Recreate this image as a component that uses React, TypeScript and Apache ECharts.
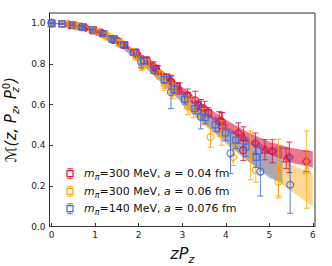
import React, { useEffect, useRef } from "react";
import * as echarts from "echarts";

const RED = "#DC143C";
const ORANGE = "#FFA500";
const BLUE = "#4169E1";

const X_TICKS = [0, 1, 2, 3, 4, 5, 6];
const Y_TICKS = [0, 0.2, 0.4, 0.6, 0.8, 1.0];

const LEGEND_LABELS = [
  "{i|m}{s|π}{n|=300 MeV, }{i|a}{n| = 0.04 fm}",
  "{i|m}{s|π}{n|=300 MeV, }{i|a}{n| = 0.06 fm}",
  "{i|m}{s|π}{n|=140 MeV, }{i|a}{n| = 0.076 fm}",
];

// bands: x, lower, upper
const BAND_X = [0, 0.5, 1, 1.5, 2, 2.5, 3, 3.5, 4, 4.5, 5, 5.5, 6];
const RED_LO = [0.998, 0.986, 0.959, 0.906, 0.833, 0.745, 0.65, 0.557, 0.475, 0.409, 0.353, 0.314, 0.29];
const RED_HI = [1.002, 0.994, 0.971, 0.924, 0.857, 0.775, 0.686, 0.599, 0.525, 0.465, 0.417, 0.386, 0.37];
const ORANGE_LO = [0.998, 0.985, 0.954, 0.896, 0.81, 0.71, 0.603, 0.498, 0.404, 0.319, 0.248, 0.175, 0.1];
const ORANGE_HI = [1.002, 0.995, 0.97, 0.92, 0.842, 0.75, 0.653, 0.558, 0.476, 0.405, 0.348, 0.305, 0.26];
const BLUE_BAND_X = [0, 0.5, 1, 1.5, 2, 2.5, 3, 3.5, 4, 4.5, 5, 5.3];
const BLUE_LO = [0.998, 0.985, 0.954, 0.896, 0.812, 0.713, 0.608, 0.508, 0.415, 0.325, 0.24, 0.215];
const BLUE_HI = [1.002, 0.995, 0.972, 0.924, 0.848, 0.757, 0.662, 0.572, 0.495, 0.435, 0.39, 0.395];

// points: [x, y, err]
const RED_SQUARES = [
  [0.0, 1.0, 0.002], [0.24, 0.997, 0.003], [0.48, 0.99, 0.004], [0.72, 0.981, 0.005],
  [0.96, 0.967, 0.006], [1.2, 0.948, 0.007], [1.44, 0.922, 0.008], [1.68, 0.893, 0.009],
  [1.92, 0.858, 0.01], [2.16, 0.82, 0.011], [2.4, 0.778, 0.012], [2.64, 0.735, 0.014],
  [2.88, 0.69, 0.016], [3.12, 0.643, 0.018], [3.36, 0.597, 0.02], [3.6, 0.56, 0.024],
];
const RED_CIRCLES = [
  [0.0, 1.0, 0.003], [0.55, 0.988, 0.006], [1.1, 0.955, 0.009], [1.65, 0.893, 0.014],
  [2.2, 0.812, 0.02], [2.75, 0.71, 0.03], [3.3, 0.62, 0.045], [3.85, 0.515, 0.05], [4.4, 0.375, 0.05],
];
const RED_TRIANGLES = [
  [0.0, 1.0, 0.003], [0.49, 0.99, 0.005], [0.98, 0.965, 0.008], [1.47, 0.918, 0.012],
  [1.96, 0.85, 0.016], [2.45, 0.768, 0.022], [2.94, 0.678, 0.028], [3.43, 0.59, 0.035],
  [3.92, 0.52, 0.04], [4.41, 0.44, 0.05], [4.9, 0.378, 0.05], [5.39, 0.335, 0.05],
];
const RED_DIAMONDS = [
  [0.0, 1.0, 0.003], [0.39, 0.993, 0.005], [0.78, 0.978, 0.007], [1.17, 0.951, 0.01],
  [1.56, 0.908, 0.013], [1.95, 0.852, 0.017], [2.34, 0.789, 0.021], [2.73, 0.718, 0.026],
  [3.12, 0.645, 0.031], [3.51, 0.58, 0.036], [3.9, 0.52, 0.04], [4.29, 0.46, 0.05],
  [4.68, 0.41, 0.05], [5.07, 0.37, 0.057], [5.46, 0.34, 0.075], [5.85, 0.32, 0.05],
];

const ORANGE_SQUARES = [
  [0.0, 1.0, 0.003], [0.31, 0.996, 0.004], [0.62, 0.985, 0.006], [0.93, 0.966, 0.008],
  [1.24, 0.94, 0.01], [1.55, 0.905, 0.012], [1.86, 0.86, 0.015], [2.17, 0.805, 0.018],
  [2.48, 0.745, 0.022], [2.79, 0.68, 0.026], [3.1, 0.612, 0.03],
];
const ORANGE_CIRCLES = [
  [0.0, 1.0, 0.003], [0.52, 0.989, 0.006], [1.04, 0.957, 0.01], [1.56, 0.9, 0.015],
  [2.08, 0.79, 0.022], [2.6, 0.7, 0.03], [3.13, 0.59, 0.04], [3.65, 0.44, 0.05],
  [4.17, 0.4, 0.05], [4.69, 0.278, 0.06], [5.21, 0.22, 0.08],
];
const ORANGE_TRIANGLES = [
  [0.0, 1.0, 0.003], [0.65, 0.984, 0.008], [1.3, 0.935, 0.014], [1.95, 0.84, 0.022],
  [2.6, 0.71, 0.032], [3.26, 0.58, 0.045], [3.91, 0.46, 0.06], [4.57, 0.35, 0.12],
  [5.21, 0.29, 0.14], [5.86, 0.28, 0.19],
];
const ORANGE_DIAMONDS = [
  [0.0, 1.0, 0.003], [0.695, 0.982, 0.008], [1.39, 0.925, 0.014], [2.085, 0.8, 0.022],
  [2.78, 0.66, 0.032], [3.475, 0.54, 0.04], [4.17, 0.34, 0.04],
];

const BLUE_SQUARES = [
  [0.0, 1.0, 0.002], [0.235, 0.997, 0.003], [0.47, 0.991, 0.004], [0.705, 0.981, 0.005],
  [0.94, 0.967, 0.006], [1.175, 0.948, 0.007], [1.41, 0.924, 0.008], [1.645, 0.893, 0.01],
  [1.88, 0.857, 0.012], [2.115, 0.815, 0.014], [2.35, 0.768, 0.016], [2.585, 0.722, 0.018],
  [2.82, 0.675, 0.02], [3.055, 0.625, 0.023], [3.29, 0.58, 0.026], [3.525, 0.535, 0.03],
  [3.76, 0.5, 0.034], [3.995, 0.46, 0.038], [4.23, 0.425, 0.042], [4.465, 0.39, 0.046],
  [4.7, 0.34, 0.05],
];
const BLUE_CIRCLES = [
  [0.0, 1.0, 0.003], [0.685, 0.981, 0.008], [1.37, 0.922, 0.016], [2.055, 0.81, 0.03],
  [2.74, 0.66, 0.08], [3.425, 0.54, 0.06], [4.11, 0.36, 0.1], [4.795, 0.27, 0.12],
  [5.48, 0.205, 0.14],
];

type Pt = number[];

function bandSeries(xs: number[], lo: number[], hi: number[], fill: string, z: number) {
  return {
    type: "custom",
    silent: true,
    z,
    clip: true,
    data: xs.map((x, i) => [x, lo[i], hi[i]]),
    encode: { x: 0, y: 1 },
    renderItem: (params: any, api: any) => {
      if (params.dataIndex !== 0) return null;
      const pts: number[][] = [];
      for (let i = 0; i < xs.length; i++) pts.push(api.coord([xs[i], hi[i]]));
      for (let i = xs.length - 1; i >= 0; i--) pts.push(api.coord([xs[i], lo[i]]));
      return { type: "polygon", shape: { points: pts }, style: { fill } };
    },
  };
}

function errSeries(data: Pt[], color: string, z: number) {
  return {
    type: "custom",
    silent: true,
    z,
    clip: false,
    data,
    encode: { x: 0, y: 1 },
    renderItem: (_params: any, api: any) => {
      const x = api.value(0);
      const y = api.value(1);
      const e = api.value(2);
      const t = api.coord([x, y + e]);
      const b = api.coord([x, y - e]);
      const w = 3;
      const st = { stroke: color, lineWidth: 1, opacity: 0.85 };
      return {
        type: "group",
        children: [
          { type: "line", shape: { x1: t[0], y1: t[1], x2: b[0], y2: b[1] }, style: st },
          { type: "line", shape: { x1: t[0] - w, y1: t[1], x2: t[0] + w, y2: t[1] }, style: st },
          { type: "line", shape: { x1: b[0] - w, y1: b[1], x2: b[0] + w, y2: b[1] }, style: st },
        ],
      };
    },
  };
}

function markSeries(data: Pt[], color: string, symbol: string, size: number, z: number) {
  return {
    type: "scatter",
    silent: true,
    z,
    data: data.map((d) => [d[0], d[1]]),
    symbol,
    symbolSize: size,
    itemStyle: { color: "rgba(255,255,255,0)", borderColor: color, borderWidth: 1.2, opacity: 0.9 },
  };
}

function groupSeries(sets: [Pt[], string, number][], color: string, z: number) {
  const out: any[] = [];
  sets.forEach(([d, sym, size]) => {
    out.push(errSeries(d, color, z));
    out.push(markSeries(d, color, sym, size, z));
  });
  return out;
}

const FONT = "DejaVu Sans";

function legendGraphics() {
  const colors = [RED, ORANGE, BLUE];
  const ys = [173.7, 191.3, 208.7];
  const els: any[] = [];
  colors.forEach((c, i) => {
    const cx = 70;
    const cy = ys[i];
    const st = { stroke: c, lineWidth: 1, opacity: 0.85 };
    els.push({ type: "line", shape: { x1: cx, y1: cy - 5, x2: cx, y2: cy + 5 }, style: st });
    els.push({ type: "line", shape: { x1: cx - 3, y1: cy - 5, x2: cx + 3, y2: cy - 5 }, style: st });
    els.push({ type: "line", shape: { x1: cx - 3, y1: cy + 5, x2: cx + 3, y2: cy + 5 }, style: st });
    els.push({
      type: "rect",
      shape: { x: cx - 3, y: cy - 3, width: 6, height: 6 },
      style: { fill: "#fff", stroke: c, lineWidth: 1.2 },
    });
    els.push({
      type: "text",
      x: 84,
      y: cy,
      style: {
        text: LEGEND_LABELS[i],
        verticalAlign: "middle",
        fill: "#111",
        rich: {
          i: { fontFamily: FONT, fontStyle: "italic", fontSize: 11, fill: "#111", lineHeight: 16 },
          s: { fontFamily: FONT, fontStyle: "italic", fontSize: 8, fill: "#111", lineHeight: 10, verticalAlign: "bottom" },
          n: { fontFamily: FONT, fontSize: 11, fill: "#111", lineHeight: 16 },
        },
      },
    });
  });
  return els;
}

export default function App() {
  const ref = useRef<HTMLDivElement>(null);
  useEffect(() => {
    if (!ref.current) return;
    const chart = echarts.init(ref.current, undefined, { renderer: "svg" });
    const series: any[] = [
      bandSeries(BAND_X, ORANGE_LO, ORANGE_HI, "rgba(255,165,0,0.42)", 1),
      bandSeries(BLUE_BAND_X, BLUE_LO, BLUE_HI, "rgba(65,105,225,0.45)", 2),
      bandSeries(BAND_X, RED_LO, RED_HI, "rgba(220,20,60,0.58)", 3),
      ...groupSeries(
        [
          [RED_SQUARES, "rect", 6],
          [RED_CIRCLES, "circle", 7],
          [RED_TRIANGLES, "triangle", 7],
          [RED_DIAMONDS, "diamond", 8],
        ],
        RED,
        4
      ),
      ...groupSeries(
        [
          [ORANGE_SQUARES, "rect", 6],
          [ORANGE_CIRCLES, "circle", 7],
          [ORANGE_TRIANGLES, "triangle", 7],
          [ORANGE_DIAMONDS, "diamond", 8],
        ],
        ORANGE,
        5
      ),
      ...groupSeries(
        [
          [BLUE_SQUARES, "rect", 6],
          [BLUE_CIRCLES, "circle", 7],
        ],
        BLUE,
        6
      ),
    ];
    chart.setOption({
      animation: false,
      backgroundColor: "#fff",
      grid: {
        left: 49.5,
        right: 17,
        top: 13,
        bottom: 39.5,
        show: true,
        borderColor: "#333",
        borderWidth: 1,
        backgroundColor: "transparent",
        outerBoundsMode: "none",
        containLabel: false,
      },
      xAxis: {
        type: "value",
        min: -0.05,
        max: 6.05,
        splitLine: { show: false },
        axisLine: { show: true, onZero: false, lineStyle: { color: "#333" } },
        axisTick: { show: true, inside: true, length: 3.5, customValues: X_TICKS, lineStyle: { color: "#333" } },
        axisLabel: {
          customValues: X_TICKS,
          fontFamily: FONT,
          fontSize: 9,
          color: "#222",
          margin: 4,
          formatter: (v: number) => String(Math.round(v)),
        },
        name: "{i|zP}{s|z}",
        nameLocation: "middle",
        nameGap: 16,
        nameTextStyle: {
          rich: {
            i: { fontFamily: FONT, fontStyle: "italic", fontSize: 16, color: "#111", lineHeight: 22 },
            s: { fontFamily: FONT, fontStyle: "italic", fontSize: 11, color: "#111", lineHeight: 12, verticalAlign: "bottom" },
          },
        },
      },
      yAxis: {
        type: "value",
        min: 0,
        max: 1.05,
        splitLine: { show: false },
        axisLine: { show: true, onZero: false, lineStyle: { color: "#333" } },
        axisTick: { show: true, inside: true, length: 3.5, customValues: Y_TICKS, lineStyle: { color: "#333" } },
        axisLabel: {
          customValues: Y_TICKS,
          fontFamily: FONT,
          fontSize: 9,
          color: "#222",
          margin: 4,
          formatter: (v: number) => v.toFixed(1),
        },
        name: "{t|ℳ(z, P}{s|z}{t|, P}{b|z}{p|0}{t|)}",
        nameLocation: "middle",
        nameRotate: 90,
        nameGap: 22,
        nameTextStyle: {
          rich: {
            t: { fontFamily: FONT, fontStyle: "italic", fontSize: 15, color: "#111", lineHeight: 19 },
            s: { fontFamily: FONT, fontStyle: "italic", fontSize: 10, color: "#111", lineHeight: 12, verticalAlign: "bottom" },
            b: { fontFamily: FONT, fontStyle: "italic", fontSize: 10, color: "#111", lineHeight: 12, verticalAlign: "bottom", width: 1 },
            p: { fontFamily: FONT, fontSize: 10, color: "#111", lineHeight: 12, verticalAlign: "top" },
          },
        },
      },
      graphic: legendGraphics(),
      series,
    });
    return () => chart.dispose();
  }, []);
  return (
    <div style={{ position: "absolute", left: 0, top: 0, width: 332, height: 266 }}>
      <div ref={ref} style={{ width: 332, height: 266 }} />
    </div>
  );
}
